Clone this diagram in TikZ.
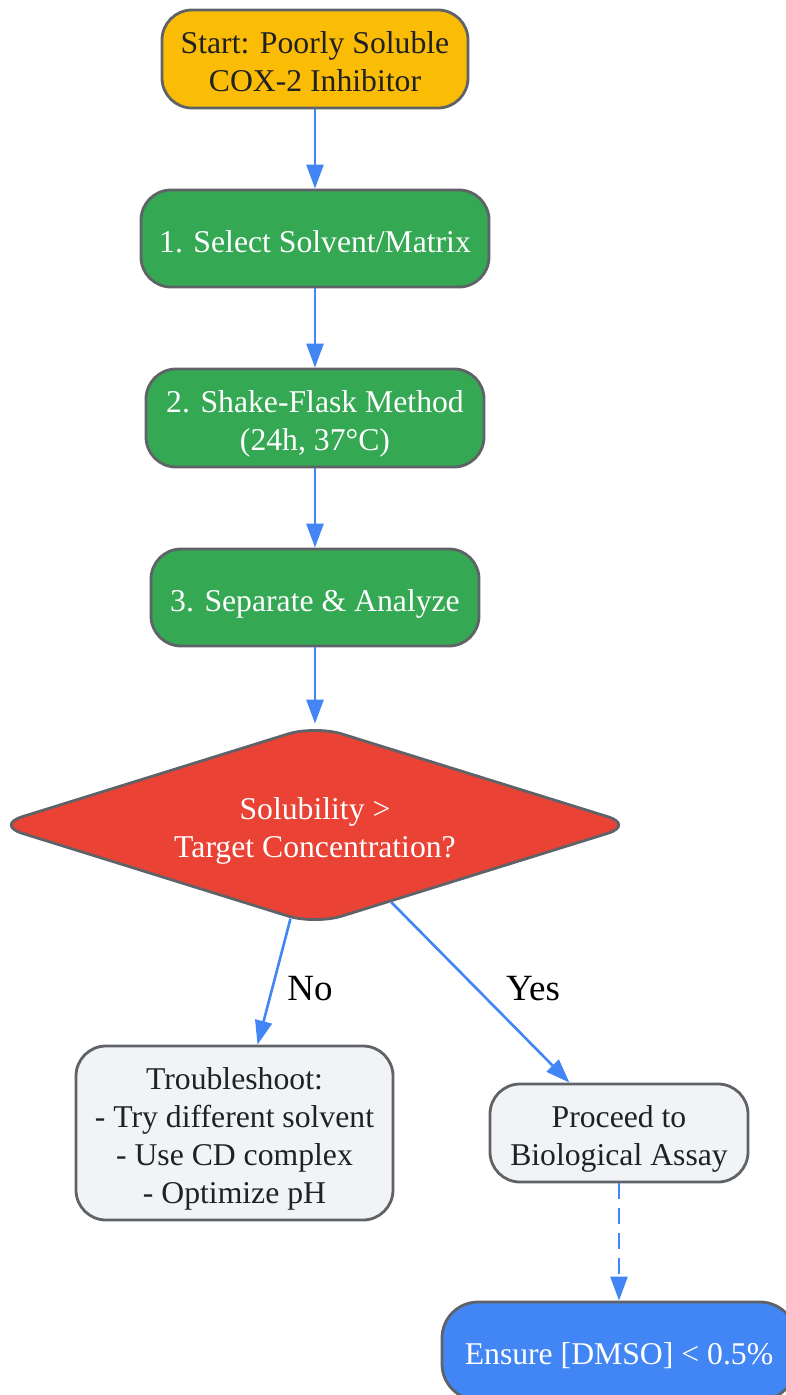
\documentclass[tikz,border=0pt]{standalone}
\usepackage{fontspec}
\setmainfont{Liberation Serif}
\usetikzlibrary{shapes.geometric,arrows.meta}
\definecolor{cyellow}{HTML}{FBBC05}
\definecolor{cgreen}{HTML}{34A853}
\definecolor{cred}{HTML}{EA4335}
\definecolor{cblue}{HTML}{4285F4}
\definecolor{cgray}{HTML}{F1F3F4}
\definecolor{cborder}{HTML}{5F6368}
\definecolor{cdark}{HTML}{202124}
\newcommand{\boxtext}[1]{\raisebox{-12.5pt}[0pt][0pt]{\setlength{\tabcolsep}{0pt}\begin{tabular}{c}#1\end{tabular}}}
\tikzset{
  box/.style={draw=cborder, line width=2.8pt, rounded corners=30pt, align=center,
    inner sep=0pt, font=\fontsize{31.7}{38}\selectfont},
  decision/.style={diamond, aspect=3.2, draw=cborder, line width=2.8pt, rounded corners=28pt,
    align=center, inner sep=0pt, fill=cred, text=white,
    minimum width=640pt, minimum height=200pt, font=\fontsize{31.7}{38}\selectfont},
  conn/.style={draw=cblue, line width=2.6pt, -{Triangle[length=24pt,width=17pt]}},
  lbl/.style={font=\fontsize{37}{44}\selectfont, text=black, inner sep=0pt, anchor=base}
}
\begin{document}
\begin{tikzpicture}[x=1pt,y=-1pt]
\useasboundingbox (0,0) rectangle (786,1395);
\node[box, fill=cyellow, text=cdark, minimum width=306pt, minimum height=98pt] (start) at (315,59) {\boxtext{Start: Poorly Soluble\\COX-2 Inhibitor}};
\node[box, fill=cgreen, text=white, minimum width=348pt, minimum height=97pt] (s1) at (315,238.5) {\boxtext{1. Select Solvent/Matrix}};
\node[box, fill=cgreen, text=white, minimum width=338pt, minimum height=98pt] (s2) at (315,418) {\boxtext{2. Shake-Flask Method\\(24h, 37\textdegree C)}};
\node[box, fill=cgreen, text=white, minimum width=328pt, minimum height=97pt] (s3) at (315,597.5) {\boxtext{3. Separate \& Analyze}};
\node[decision] (dia) at (315,825) {\boxtext{Solubility >\\Target Concentration?}};
\node[box, fill=cgray, text=cdark, minimum width=317pt, minimum height=174pt] (tr) at (234.5,1133) {\boxtext{Troubleshoot:\\- Try different solvent\\- Use CD complex\\- Optimize pH}};
\node[box, fill=cgray, text=cdark, minimum width=258pt, minimum height=98pt] (pr) at (619,1133) {\boxtext{Proceed to\\Biological Assay}};
\node[box, fill=cblue, text=white, minimum width=354pt, minimum height=98pt, rounded corners=36pt] (en) at (619,1351) {\boxtext{Ensure [DMSO] < 0.5\%}};
\draw[conn] (start) -- (s1);
\draw[conn] (s1) -- (s2);
\draw[conn] (s2) -- (s3);
\draw[conn] (s3) -- (dia);
\draw[conn] (dia) -- (tr);
\draw[conn] (dia) -- (pr);
\draw[conn, dash pattern=on 16pt off 9pt] (pr) -- (en);
\node[lbl] (no) at (310,1000) {No};
\node[lbl] (yes) at (533,1000) {Yes};
\end{tikzpicture}
\end{document}
